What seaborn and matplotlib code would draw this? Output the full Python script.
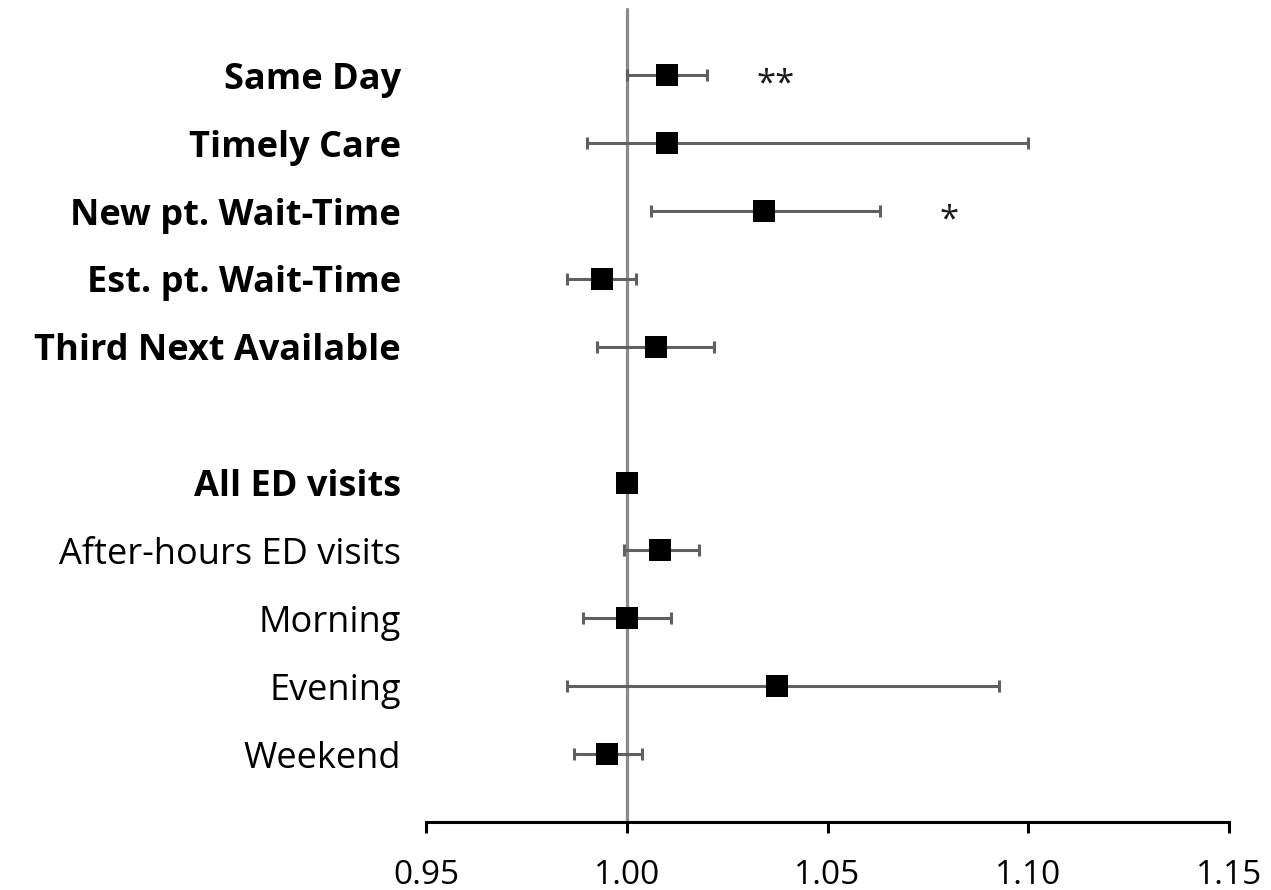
import matplotlib
matplotlib.use("Agg")
import matplotlib.pyplot as plt
import seaborn as sns
import pandas as pd

# Access measures (bold) and ED visit outcomes
access_labels = ["Same Day", "Timely Care", "New pt. Wait-Time",
                 "Est. pt. Wait-Time", "Third Next Available"]
access_or = [1.010, 1.010, 1.0343, 0.9938, 1.0073]
access_lo = [1.000, 0.990, 1.0061, 0.9852, 0.9927]
access_hi = [1.020, 1.100, 1.0632, 1.0024, 1.0217]
access_sig = ["**", "", "*", "", ""]

ed_labels = ["All ED visits", "After-hours ED visits", "Morning",
             "Evening", "Weekend"]
ed_or = [1.000, 1.0082, 1.000, 1.0375, 0.9951]
ed_lo = [1.000, 0.9993, 0.989, 0.9852, 0.9869]
ed_hi = [1.000, 1.0179, 1.0109, 1.0926, 1.0038]
ed_bold = [True, False, False, False, False]

x_ticks = [0.95, 1.00, 1.05, 1.10, 1.15]

df = pd.DataFrame({
    "label": access_labels + ed_labels,
    "or": access_or + ed_or,
    "lo": access_lo + ed_lo,
    "hi": access_hi + ed_hi,
    "bold": [True] * len(access_labels) + ed_bold,
    "sig": access_sig + [""] * len(ed_labels),
})
# leave one empty row between the two groups
df["pos"] = list(range(len(access_labels))) + [i + len(access_labels) + 1 for i in range(len(ed_labels))]

sns.set_theme(style="white")
plt.rcParams["font.family"] = ["Open Sans", "DejaVu Sans"]

fig = plt.figure(figsize=(12.71, 8.90), dpi=100)
ax = fig.add_axes([426 / 1271, (890 - 822) / 890, (1229 - 426) / 1271, 822 / 890])

# reference line at OR = 1
ax.plot([1.0, 1.0], [11.0, -0.98], color="#8a8a8a", lw=2.3, zorder=1, clip_on=False)

ax.errorbar(df["or"], df["pos"],
            xerr=[df["or"] - df["lo"], df["hi"] - df["or"]],
            fmt="none", ecolor="#606060", elinewidth=2.2, capsize=4.3,
            capthick=2.2, zorder=2)
sns.scatterplot(data=df, x="or", y="pos", marker="s", s=245, color="black",
                edgecolor="black", linewidth=0, ax=ax, zorder=3, legend=False)

# significance stars to the right of the interval
for _, r in df.iterrows():
    if r["sig"]:
        ax.text(r["hi"] + 0.017, r["pos"] + 0.14, r["sig"], ha="center",
                va="center", fontsize=25, color="#1a1a1a")

ax.set_xlim(0.95, 1.15)
ax.set_ylim(11.0, -1.11)
ax.set_xticks(x_ticks)
ax.set_xticklabels([f"{t:.2f}" for t in x_ticks], fontsize=24)
ax.set_yticks(df["pos"])
ax.set_yticklabels(df["label"], fontsize=26)
for lbl, b in zip(ax.get_yticklabels(), df["bold"]):
    lbl.set_fontweight("bold" if b else "normal")
ax.set_xlabel("")
ax.set_ylabel("")

for s in ["top", "right", "left"]:
    ax.spines[s].set_visible(False)
ax.spines["bottom"].set_color("black")
ax.spines["bottom"].set_linewidth(2.2)
ax.tick_params(axis="x", direction="out", length=8, width=2.2, color="black",
               pad=19, bottom=True, labelcolor="black")
ax.tick_params(axis="y", length=0, pad=18, labelcolor="black")

fig.savefig("out.png", dpi=100, facecolor="white")
